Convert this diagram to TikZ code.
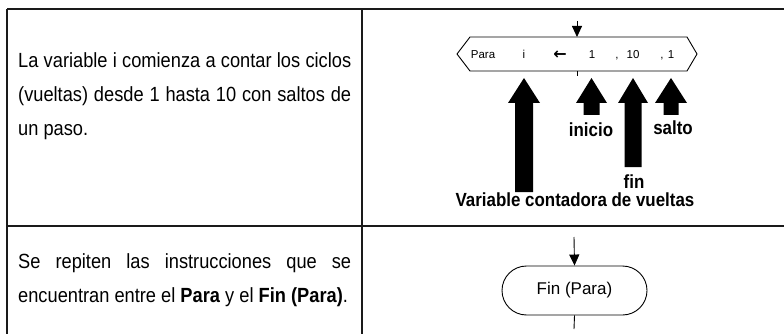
\documentclass[tikz,border=0pt]{standalone}
\usepackage{fontspec}
\usepackage{tikz}
\usetikzlibrary{positioning,shapes.misc,arrows.meta}
\setmainfont{Liberation Sans}[FakeStretch=0.89]
\newfontfamily\lblfont{Liberation Sans}[FakeStretch=0.89]
\newfontfamily\pixfont{Liberation Sans}
\newfontfamily\symfont{DejaVu Sans}
\definecolor{RuleGray}{HTML}{1A1A1A}
\tikzset{
  tablerule/.style={line width=1.2pt,draw=RuleGray},
  celltext/.style={inner sep=0pt,font=\fontsize{20.5}{34}\selectfont,anchor=base west},
  hexline/.style={line width=0.9pt,draw=black},
  hextext/.style={inner sep=0pt,anchor=base,font=\pixfont\fontsize{11.5}{13}\selectfont},
  lbltext/.style={inner sep=0pt,font=\lblfont\bfseries\fontsize{19}{22}\selectfont},
  flowline/.style={line width=0.9pt,draw=black},
  flowarr/.style={flowline,-{Triangle[width=10pt,length=11pt]}},
  termnode/.style={rounded rectangle,draw=black,line width=0.9pt,
    minimum width=145pt,minimum height=49pt,inner sep=0pt,
    font=\pixfont\fontsize{17}{20}\selectfont},
}
\begin{document}
\begin{tikzpicture}[x=1pt,y=-1pt]
  \useasboundingbox (0,0) rectangle (784,334);
  % table
  \draw[tablerule] (7,9) -- (784,9);
  \draw[tablerule] (7,226) -- (784,226);
  \draw[tablerule] (7,9) -- (7,334);
  \draw[tablerule] (362,9) -- (362,334);
  \node[celltext] (txtCycle) at (18,68) {\parbox[t]{333pt}{La variable i comienza a contar los ciclos\linebreak
    (vueltas) desde 1 hasta 10 con saltos de\linebreak un paso.}};
  \node[celltext] (txtRepeat) at (18,268) {\parbox[t]{333pt}{Se repiten las instrucciones que se\linebreak
    encuentran entre el \textbf{Para} y el \textbf{Fin (Para)}.}};
  % Para block
  \coordinate (inPara) at (577,21);
  \coordinate (hexTop) at (577,37);
  \coordinate (hexBot) at (577,71);
  \coordinate (outPara) at (577,76);
  \draw[hexline] (457,54) -- (470,37) -- (687,37) -- (697,54) -- (687,71) -- (470,71) -- cycle;
  \draw[flowarr] (inPara) -- (hexTop);
  \draw[flowline] (hexBot) -- (outPara);
  \node[hextext] (kwPara) at (483,58.5) {Para};
  \node[hextext] (varI) at (524,58.5) {i};
  \node[hextext,font=\symfont\bfseries\fontsize{16}{16}\selectfont] (assign) at (560,59.5) {←};
  \node[hextext] (valStart) at (592,58.5) {1};
  \node[hextext] (commaA) at (617,58.5) {,};
  \node[hextext] (valEnd) at (633,58.5) {10};
  \node[hextext] (commaB) at (662,58.5) {,};
  \node[hextext] (valStep) at (671,58.5) {1};
  % pointers
  \fill (515,192) -- (515,103) -- (508,103) -- (524,78) -- (540,103) -- (533,103) -- (533,192) -- cycle;
  \fill (583.5,115) -- (583.5,103) -- (576,103) -- (591.5,78) -- (607,103) -- (599.5,103) -- (599.5,115) -- cycle;
  \fill (624.5,167) -- (624.5,103) -- (618,103) -- (633,78) -- (648,103) -- (641.5,103) -- (641.5,167) -- cycle;
  \fill (663.5,115) -- (663.5,103) -- (655,103) -- (671,78) -- (687,103) -- (678.5,103) -- (678.5,115) -- cycle;
  \node[lbltext] (lblStart) at (591,130) {inicio};
  \node[lbltext] (lblStep) at (673,128) {salto};
  \node[lbltext] (lblEnd) at (634,182) {fin};
  \node[lbltext] (lblVar) at (575,200) {Variable contadora de vueltas};
  % Fin (Para) block
  \coordinate (inFin) at (574,237);
  \coordinate (outFin) at (574,329);
  \node[termnode] (finPara) at (574.5,290.5) {Fin (Para)};
  \draw[flowarr] (inFin) -- (finPara.north);
  \draw[flowline] (finPara.south) -- (outFin);
\end{tikzpicture}
\end{document}
